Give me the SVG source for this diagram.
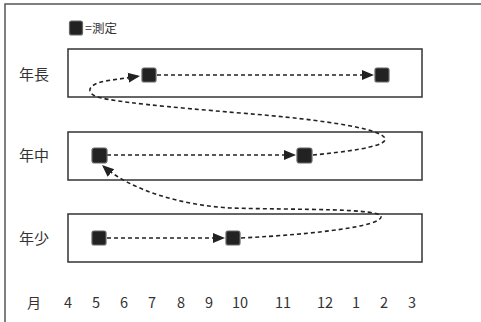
<svg xmlns="http://www.w3.org/2000/svg" width="481" height="322" viewBox="0 0 481 322">
<style>
.frame{fill:none;stroke:#555;stroke-width:1.5}
.box{fill:#fff;stroke:#333;stroke-width:1.5}
.m{fill:#222;stroke:#666;stroke-width:1.2}
.lbl{font-family:"Noto Sans CJK JP","Noto Sans",sans-serif;font-weight:400;fill:#333}
.c{fill:none;stroke:#222;stroke-width:1.6;stroke-dasharray:4 3}
</style>
<defs>
<marker id="ah" markerUnits="userSpaceOnUse" markerWidth="13" markerHeight="13" viewBox="0 0 13 13" refX="12" refY="6.5" orient="auto">
<path d="M0,1.5 L12,6.5 L0,11.5 Z" fill="#222"/>
</marker>
</defs>
<rect class="frame" x="5" y="4" width="490" height="340"/>
<g id="legend">
<rect class="m" x="69.5" y="21" width="13" height="14" rx="2"/>
<text class="lbl" x="85" y="33" font-size="12.5">=測定</text>
</g>
<g id="nencho">
<rect class="box" x="68" y="49" width="354" height="48"/>
<text class="lbl" x="19" y="80" font-size="15">年長</text>
</g>
<g id="nenchu">
<rect class="box" x="68" y="132" width="354" height="48"/>
<text class="lbl" x="19" y="161" font-size="15">年中</text>
</g>
<g id="nensho">
<rect class="box" x="68" y="214" width="354" height="48"/>
<text class="lbl" x="19" y="244" font-size="15">年少</text>
</g>
<g id="connectors">
<path class="c" d="M157,75 L374,75" marker-end="url(#ah)"/>
<path class="c" d="M107,155 L296,155" marker-end="url(#ah)"/>
<path class="c" d="M107,238 L225,238" marker-end="url(#ah)"/>
<path class="c" d="M241,238 C320,234 380,226 381,217 C382,208 300,210 230,208 C180,205 130,190 102,165" marker-end="url(#ah)"/>
<path class="c" d="M313,155 C345,152 383,147 385,140 C388,130 330,120 240,113 C170,107 110,102 95,96 C85,91 90,84 105,81 L140,76" marker-end="url(#ah)"/>
</g>
<g id="m1"><rect class="m" x="142" y="68" width="14" height="14" rx="2"/></g>
<g id="m2"><rect class="m" x="375" y="68" width="14" height="14" rx="2"/></g>
<g id="m3"><rect class="m" x="92" y="148" width="15" height="15" rx="2.5"/></g>
<g id="m4"><rect class="m" x="297" y="148" width="15" height="15" rx="2.5"/></g>
<g id="m5"><rect class="m" x="92" y="231" width="14" height="14" rx="2"/></g>
<g id="m6"><rect class="m" x="226" y="231" width="14" height="14" rx="2"/></g>
<g id="months" class="lbl" font-size="14.5" text-anchor="middle">
<text x="34" y="308" font-size="14">月</text>
<text x="68" y="308">4</text>
<text x="96" y="308">5</text>
<text x="124" y="308">6</text>
<text x="152" y="308">7</text>
<text x="181" y="308">8</text>
<text x="209" y="308">9</text>
<text x="240" y="308">10</text>
<text x="283" y="308">11</text>
<text x="325" y="308">12</text>
<text x="356" y="308">1</text>
<text x="384" y="308">2</text>
<text x="412" y="308">3</text>
</g>
</svg>
